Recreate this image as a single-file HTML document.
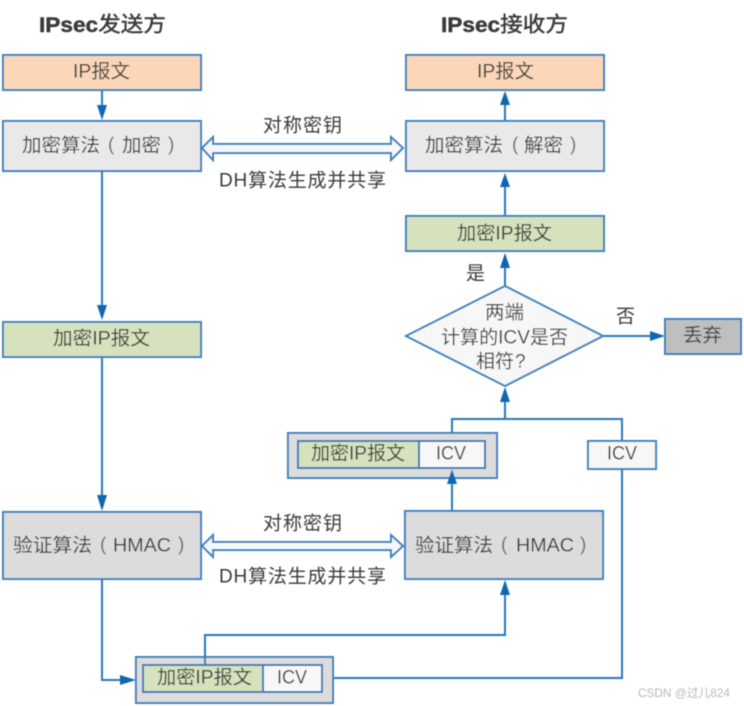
<!DOCTYPE html>
<html>
<head>
<meta charset="utf-8">
<style>
html,body{margin:0;padding:0;background:#fff;width:744px;height:706px;overflow:hidden}
svg{display:block}
text{font-family:"Liberation Sans","Noto Sans CJK SC",sans-serif;fill:#3a3a3a;font-size:19px;dominant-baseline:central}
.b{stroke:#3a82bd;stroke-width:2;}
.l{stroke:#2b78b8;stroke-width:2;fill:none}
.h{fill:#0f67b1;stroke:none}
.t{font-size:21px;stroke:#3a3a3a;stroke-width:.45}
.p{fill:#666}
</style>
</head>
<body>
<svg width="744" height="706" viewBox="0 0 744 706" xmlns="http://www.w3.org/2000/svg">
<defs><filter id="s" filterUnits="userSpaceOnUse" x="0" y="0" width="744" height="706"><feGaussianBlur stdDeviation="0.42"/></filter></defs>
<g filter="url(#s)">

<!-- connectors -->
<path class="l" d="M102 90V106M102 171V306M102 357V496M102 579V680H122"/>
<path class="l" d="M505 121V104M505 216V186M505 286V267M505 419V401M603 336H651"/>
<path class="l" d="M452 511V483"/>
<path class="l" d="M452 440V419H622V441"/>
<path class="l" d="M205 665V635H505V594"/>
<path class="l" d="M322 678H622V469"/>

<!-- boxes -->
<rect class="b" x="3" y="55" width="198" height="35" fill="#fbd6b8"/>
<rect class="b" x="3" y="121" width="198" height="50" fill="#e9e9e9"/>
<rect class="b" x="3" y="322" width="198" height="35" fill="#d6e2bd"/>
<rect class="b" x="3" y="512" width="198" height="67" fill="#dcdcdc"/>
<rect class="b" x="406" y="55" width="198" height="35" fill="#fbd6b8"/>
<rect class="b" x="406" y="121" width="198" height="50" fill="#e9e9e9"/>
<rect class="b" x="406" y="216" width="198" height="35" fill="#d6e2bd"/>
<rect class="b" x="405" y="511" width="198" height="68" fill="#dcdcdc"/>
<rect class="b" x="665" y="319" width="76" height="35" fill="#bfbfbf"/>
<polygon class="b" points="406,336 505,286 603,336 505,386" fill="#f7f7f7"/>
<rect class="b" x="588" y="441" width="68" height="28" fill="#f7f7f7"/>

<!-- right container -->
<rect class="b" x="288" y="433" width="209" height="45" fill="#dcdcdc"/>
<rect x="298" y="441" width="121" height="27" fill="#d6e2bd" stroke="#2b78b8" stroke-width="2"/>
<rect x="419" y="441" width="66" height="27" fill="#f7f7f7" stroke="#2b78b8" stroke-width="2"/>
<!-- bottom container -->
<rect class="b" x="136" y="657" width="197" height="46" fill="#dcdcdc"/>
<rect x="143" y="665" width="120" height="27" fill="#d6e2bd" stroke="#2b78b8" stroke-width="2"/>
<rect x="263" y="665" width="59" height="27" fill="#f7f7f7" stroke="#2b78b8" stroke-width="2"/>
<path class="l" d="M205 657V665"/>

<!-- arrowheads -->
<polygon class="h" points="97,105 107,105 102,120"/>
<polygon class="h" points="97,305 107,305 102,320"/>
<polygon class="h" points="97,495 107,495 102,511"/>
<polygon class="h" points="120,675 120,685 136,680"/>
<polygon class="h" points="500,105 510,105 505,91"/>
<polygon class="h" points="500,187 510,187 505,173"/>
<polygon class="h" points="500,268 510,268 505,253"/>
<polygon class="h" points="500,402 510,402 505,387"/>
<polygon class="h" points="447,484 457,484 452,469"/>
<polygon class="h" points="500,595 510,595 505,580"/>
<polygon class="h" points="650,331 650,341 665,336"/>

<!-- double arrows -->
<polygon fill="#f4f8fc" stroke="#3a82bd" stroke-width="2" points="202,148 213,137 213,144 391,144 391,137 403,148 391,160 391,153 213,153 213,160"/>
<polygon fill="#f4f8fc" stroke="#3a82bd" stroke-width="2" points="202,546 213,535 213,542 391,542 391,535 403,546 391,557 391,550 213,550 213,557"/>

<!-- text -->
<g transform="translate(0,1)">
<text class="t" x="39" y="24" textLength="127" lengthAdjust="spacingAndGlyphs"><tspan font-weight="bold">IPsec</tspan>发送方</text>
<text class="t" x="441" y="24" textLength="127" lengthAdjust="spacingAndGlyphs"><tspan font-weight="bold">IPsec</tspan>接收方</text>

<text x="73" y="71" textLength="57" lengthAdjust="spacingAndGlyphs">IP报文</text>
<text x="477" y="71" textLength="57" lengthAdjust="spacingAndGlyphs">IP报文</text>

<text x="22" y="145" textLength="78" lengthAdjust="spacingAndGlyphs">加密算法</text>
<text class="p" x="108" y="144">(</text>
<text x="122" y="145" textLength="39" lengthAdjust="spacingAndGlyphs">加密</text>
<text class="p" x="168" y="144">)</text>

<text x="425" y="145" textLength="78" lengthAdjust="spacingAndGlyphs">加密算法</text>
<text class="p" x="512" y="144">(</text>
<text x="524" y="145" textLength="39" lengthAdjust="spacingAndGlyphs">解密</text>
<text class="p" x="570" y="144">)</text>

<text x="263" y="125" textLength="79" lengthAdjust="spacing">对称密钥</text>
<text x="219" y="180" textLength="167" lengthAdjust="spacing">DH算法生成并共享</text>
<text x="263" y="523" textLength="79" lengthAdjust="spacing">对称密钥</text>
<text x="219" y="576" textLength="167" lengthAdjust="spacing">DH算法生成并共享</text>

<text x="53" y="338" textLength="97" lengthAdjust="spacingAndGlyphs">加密IP报文</text>
<text x="457" y="233" textLength="95" lengthAdjust="spacingAndGlyphs">加密IP报文</text>

<text x="13" y="545" textLength="79" lengthAdjust="spacingAndGlyphs">验证算法</text>
<text class="p" x="100" y="544">(</text>
<text x="113" y="545" textLength="58" lengthAdjust="spacingAndGlyphs">HMAC</text>
<text class="p" x="178" y="544">)</text>

<text x="415" y="545" textLength="78" lengthAdjust="spacingAndGlyphs">验证算法</text>
<text class="p" x="501" y="544">(</text>
<text x="516" y="545" textLength="58" lengthAdjust="spacingAndGlyphs">HMAC</text>
<text class="p" x="580" y="544">)</text>

<text x="466" y="273" textLength="19">是</text>
<text x="616" y="316" textLength="19">否</text>
<text x="485" y="312" textLength="39" lengthAdjust="spacingAndGlyphs">两端</text>
<text x="441" y="337" textLength="127" lengthAdjust="spacingAndGlyphs">计算的ICV是否</text>
<text x="476" y="361" textLength="38" lengthAdjust="spacingAndGlyphs">相符</text>
<text x="515" y="361">?</text>
<text x="683" y="335" textLength="39" lengthAdjust="spacingAndGlyphs">丢弃</text>
<text x="311" y="453" textLength="94" lengthAdjust="spacingAndGlyphs">加密IP报文</text>
<text x="436" y="453" textLength="30" lengthAdjust="spacingAndGlyphs">ICV</text>
<text x="607" y="453" textLength="30" lengthAdjust="spacingAndGlyphs">ICV</text>
<text x="157" y="677" textLength="95" lengthAdjust="spacingAndGlyphs">加密IP报文</text>
<text x="277" y="677" textLength="30" lengthAdjust="spacingAndGlyphs">ICV</text>
<text x="638" y="692" style="font-size:12px;fill:#b9b9b9" textLength="92" lengthAdjust="spacingAndGlyphs">CSDN @过儿824</text>
</g>
</g>
</svg>
</body>
</html>
